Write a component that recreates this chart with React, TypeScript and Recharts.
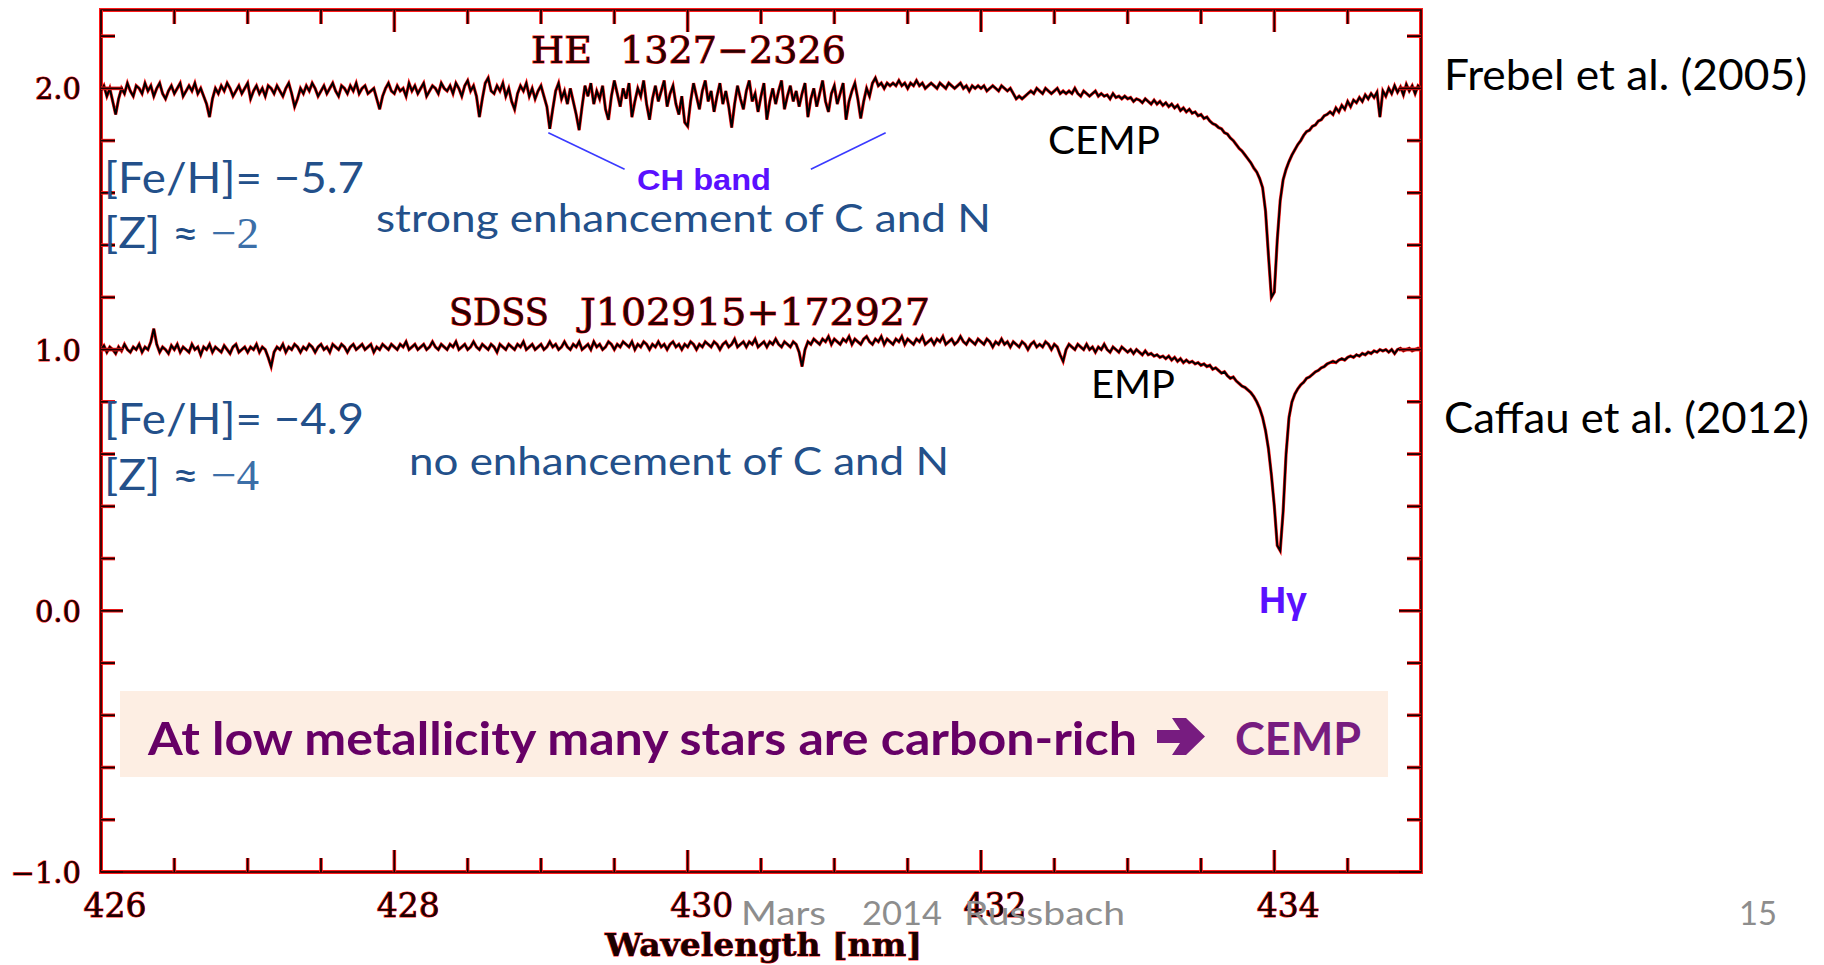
import React from 'react';
import { LineChart, Line, XAxis, YAxis, ReferenceArea, ReferenceLine } from 'recharts';

// wavelength grid of both spectra (nm)
const WL_START = 426;
const WL_STEP = 0.02;

// HE 1327-2326, normalised flux shifted up by 1
const HE1327_FLUX = [
  1.99, 2.01, 1.97, 2.00, 1.95, 1.90, 1.96, 2.00, 1.98, 2.02,
  1.99, 1.97, 2.01, 2.00, 1.98, 2.02, 1.99, 2.01, 1.97, 2.00,
  2.02, 1.98, 1.96, 1.99, 2.01, 1.98, 2.00, 2.02, 1.97, 1.99,
  2.01, 1.99, 2.02, 1.98, 2.00, 1.97, 1.94, 1.89, 1.96, 2.00,
  1.98, 2.01, 1.99, 2.02, 2.00, 1.97, 1.99, 2.01, 1.98, 2.00,
  2.02, 1.96, 1.99, 2.01, 1.98, 2.00, 1.97, 2.01, 2.00, 1.98,
  2.01, 1.99, 1.97, 2.00, 2.02, 1.98, 1.93, 1.96, 2.00, 1.98,
  2.01, 1.99, 2.02, 2.00, 1.97, 1.99, 2.01, 1.98, 2.00, 2.02,
  1.99, 1.97, 2.01, 2.00, 1.98, 2.01, 1.99, 2.02, 1.98, 2.00,
  2.01, 1.98, 1.99, 2.00, 1.96, 1.92, 1.97, 2.00, 2.02, 1.99,
  1.98, 2.01, 1.99, 2.00, 1.97, 2.02, 1.99, 2.01, 1.98, 2.00,
  2.02, 1.97, 1.99, 2.01, 2.00, 1.98, 2.02, 2.00, 1.99, 2.01,
  1.98, 2.02, 2.00, 1.97, 2.01, 2.03, 1.99, 2.01, 1.97, 1.89,
  1.96, 2.02, 2.04, 1.99, 1.98, 2.01, 1.99, 2.02, 1.97, 2.00,
  1.95, 1.92, 1.98, 2.01, 1.99, 2.02, 1.97, 2.00, 1.96, 1.99,
  2.01, 1.97, 1.93, 1.845, 1.92, 1.99, 2.02, 1.96, 1.99, 1.94,
  2.00, 1.95, 1.90, 1.84, 1.93, 2.01, 1.97, 2.02, 1.94, 1.99,
  1.96, 2.01, 1.92, 1.88, 1.97, 2.03, 1.98, 1.93, 2.00, 1.96,
  2.02, 1.89, 1.95, 2.00, 1.97, 2.03, 1.94, 1.88, 1.96, 2.01,
  1.95, 1.99, 2.03, 1.93, 1.98, 2.01, 1.94, 1.90, 1.97, 1.87,
  1.855, 1.95, 2.02, 1.97, 1.92, 1.99, 2.03, 1.95, 1.99, 1.91,
  1.97, 2.02, 1.94, 1.99, 1.93, 1.85, 1.94, 2.01, 1.96, 1.92,
  1.99, 2.03, 1.95, 1.98, 1.91, 1.97, 2.02, 1.88, 1.95, 2.00,
  1.94, 1.99, 2.03, 1.92, 1.97, 2.01, 1.95, 1.99, 1.93, 1.98,
  2.02, 1.89, 1.96, 2.00, 1.93, 1.98, 2.03, 1.95, 1.91, 1.98,
  2.01, 1.94, 1.98, 2.02, 1.88, 1.95, 1.99, 2.02, 1.96, 1.885,
  1.95, 2.00, 1.97, 2.02, 2.04, 2.01, 2.02, 2.00, 2.02, 2.01,
  2.02, 2.01, 2.03, 2.01, 2.02, 2.00, 2.02, 2.01, 2.03, 2.01,
  2.02, 2.00, 2.01, 2.02, 2.01, 2.00, 2.02, 2.01, 2.00, 2.02,
  2.01, 2.00, 2.01, 2.02, 2.00, 2.01, 1.99, 2.01, 2.00, 2.01,
  2.00, 2.01, 1.99, 2.00, 2.01, 2.00, 1.99, 2.01, 2.00, 1.99,
  2.00, 1.98, 1.96, 1.97, 1.96, 1.97, 1.98, 1.99, 1.98, 2.00,
  1.99, 1.98, 2.00, 1.99, 1.98, 1.99, 2.00, 1.98, 1.99, 1.98,
  1.99, 1.98, 2.00, 1.98, 1.97, 1.99, 1.98, 1.97, 1.98, 1.99,
  1.97, 1.98, 1.97, 1.975, 1.96, 1.98, 1.965, 1.97, 1.96, 1.97,
  1.96, 1.965, 1.95, 1.96, 1.955, 1.945, 1.96, 1.95, 1.94, 1.955,
  1.94, 1.95, 1.935, 1.945, 1.93, 1.94, 1.925, 1.935, 1.915, 1.925,
  1.91, 1.92, 1.905, 1.91, 1.895, 1.90, 1.885, 1.89, 1.875, 1.865,
  1.86, 1.85, 1.845, 1.83, 1.825, 1.81, 1.80, 1.785, 1.77, 1.76,
  1.745, 1.73, 1.715, 1.695, 1.68, 1.655, 1.62, 1.53, 1.36, 1.20,
  1.22, 1.42, 1.57, 1.65, 1.69, 1.72, 1.745, 1.765, 1.785, 1.80,
  1.82, 1.835, 1.84, 1.855, 1.86, 1.875, 1.88, 1.895, 1.90, 1.91,
  1.90, 1.925, 1.91, 1.935, 1.92, 1.95, 1.93, 1.955, 1.945, 1.965,
  1.95, 1.975, 1.96, 1.98, 1.965, 1.985, 1.89, 1.99, 1.97, 2.00,
  1.98, 2.01, 1.985, 2.005, 1.975, 2.015, 1.99, 2.01, 1.98, 2.01,
  2.00,
];

// SDSS J102915+172927, normalised flux
const SDSS_FLUX = [
  1.00, 1.015, 0.99, 1.01, 1.00, 0.985, 1.01, 0.995, 1.02, 1.00,
  0.99, 1.01, 1.00, 1.02, 0.99, 1.01, 1.00, 1.03, 1.08, 1.02,
  0.99, 1.01, 1.00, 0.985, 1.015, 1.00, 1.02, 0.99, 1.01, 1.00,
  0.99, 1.02, 1.00, 1.01, 0.98, 1.01, 1.00, 1.02, 0.99, 1.01,
  1.00, 0.99, 1.015, 1.00, 0.985, 1.01, 1.02, 0.99, 1.00, 1.01,
  0.99, 1.01, 1.00, 1.02, 0.99, 1.01, 1.00, 0.97, 0.935, 0.99,
  1.01, 1.00, 1.02, 0.99, 1.01, 1.00, 1.02, 1.01, 0.99, 1.01,
  1.00, 1.02, 1.01, 0.99, 1.01, 1.02, 1.00, 1.01, 0.99, 1.02,
  1.01, 1.00, 1.02, 1.01, 0.99, 1.01, 1.02, 1.00, 1.01, 1.02,
  1.00, 1.01, 1.02, 0.99, 1.01, 1.00, 1.02, 1.01, 1.00, 1.02,
  1.01, 1.00, 1.02, 1.01, 1.03, 1.00, 1.01, 1.02, 1.00, 1.01,
  1.02, 1.00, 1.01, 1.03, 1.01, 1.00, 1.02, 1.01, 1.00, 1.02,
  1.01, 1.03, 1.00, 1.01, 1.02, 1.00, 1.01, 1.03, 1.01, 1.00,
  1.02, 1.01, 1.00, 1.02, 1.01, 0.99, 1.02, 1.01, 1.00, 1.02,
  1.01, 1.00, 1.02, 1.01, 1.03, 1.00, 1.01, 1.02, 1.00, 1.01,
  1.02, 1.00, 1.01, 1.03, 1.01, 1.02, 1.00, 1.01, 1.03, 1.01,
  1.00, 1.02, 1.01, 1.03, 1.00, 1.01, 1.02, 1.00, 1.03, 1.01,
  1.02, 1.00, 1.01, 1.03, 1.02, 1.00, 1.02, 1.01, 1.03, 1.02,
  1.01, 1.03, 1.00, 1.02, 1.01, 1.03, 1.02, 1.00, 1.02, 1.01,
  1.03, 1.01, 1.02, 1.00, 1.02, 1.03, 1.01, 1.02, 1.00, 1.02,
  1.01, 1.03, 1.02, 1.00, 1.02, 1.01, 1.03, 1.02, 1.01, 1.03,
  1.02, 1.00, 1.02, 1.03, 1.01, 1.02, 1.04, 1.01, 1.02, 1.03,
  1.01, 1.03, 1.02, 1.04, 1.01, 1.02, 1.03, 1.01, 1.03, 1.02,
  1.04, 1.02, 1.01, 1.03, 1.02, 1.01, 1.03, 1.02, 0.99, 0.935,
  1.00, 1.03, 1.02, 1.04, 1.03, 1.02, 1.04, 1.03, 1.05, 1.02,
  1.04, 1.03, 1.02, 1.04, 1.03, 1.05, 1.02, 1.04, 1.03, 1.02,
  1.04, 1.05, 1.03, 1.02, 1.04, 1.03, 1.05, 1.02, 1.04, 1.03,
  1.02, 1.04, 1.03, 1.05, 1.02, 1.04, 1.03, 1.02, 1.04, 1.03,
  1.05, 1.02, 1.03, 1.04, 1.02, 1.04, 1.03, 1.05, 1.02, 1.03,
  1.04, 1.02, 1.03, 1.05, 1.03, 1.02, 1.04, 1.03, 1.02, 1.04,
  1.03, 1.02, 1.04, 1.03, 1.01, 1.03, 1.02, 1.04, 1.02, 1.03,
  1.01, 1.03, 1.02, 1.01, 1.03, 1.02, 1.00, 1.02, 1.03, 1.01,
  1.02, 1.01, 1.03, 1.02, 1.00, 1.02, 1.01, 0.98, 0.955, 1.00,
  1.02, 1.01, 1.00, 1.02, 1.01, 1.00, 1.02, 1.00, 1.01, 0.99,
  1.01, 1.00, 1.02, 1.00, 0.99, 1.01, 1.00, 0.99, 1.01, 1.00,
  0.99, 1.00, 0.985, 1.00, 0.99, 0.98, 0.995, 0.98, 0.985, 0.975,
  0.98, 0.97, 0.975, 0.965, 0.975, 0.96, 0.97, 0.955, 0.965, 0.95,
  0.96, 0.95, 0.955, 0.945, 0.95, 0.94, 0.945, 0.935, 0.94, 0.925,
  0.93, 0.92, 0.91, 0.915, 0.90, 0.89, 0.895, 0.88, 0.87, 0.86,
  0.855, 0.845, 0.835, 0.82, 0.80, 0.775, 0.74, 0.69, 0.62, 0.52,
  0.40, 0.25, 0.23, 0.38, 0.60, 0.74, 0.80, 0.83, 0.85, 0.865,
  0.875, 0.89, 0.895, 0.905, 0.915, 0.92, 0.93, 0.935, 0.945, 0.95,
  0.955, 0.95, 0.96, 0.965, 0.96, 0.97, 0.975, 0.97, 0.98, 0.975,
  0.985, 0.98, 0.99, 0.985, 0.995, 0.99, 1.00, 0.995, 1.00, 0.99,
  1.00, 0.985, 1.00, 1.005, 0.995, 1.00, 1.005, 0.995, 1.00, 1.005,
  1.00,
];

const X_TICKS = [426, 426.5, 427, 427.5, 428, 428.5, 429, 429.5, 430, 430.5, 431, 431.5, 432, 432.5, 433, 433.5, 434, 434.5];
const X_LABELED = [426, 428, 430, 432, 434];
const Y_TICKS = [-1, -0.8, -0.6, -0.4, -0.2, 0, 0.2, 0.4, 0.6, 0.8, 1, 1.2, 1.4, 1.6, 1.8, 2, 2.2];
const Y_LABELED = [-1, 0, 1, 2];

const W = 1824;
const H = 965;
// every axis is 1px thick, so the plot box ends up at x 101..1421, y 10..872
const MARGIN = { top: 9, right: 402, bottom: 92, left: 100 };

const RED = '#ff1a1a';
const INK = '#1a0000';
const BLUE = '#23508a';

const chartData = HE1327_FLUX.map((he, i) => ({
  wl: Math.round((WL_START + i * WL_STEP) * 100) / 100,
  he,
  sdss: SDSS_FLUX[i],
}));

const fmtY = (v: number) => (v < 0 ? '\u2212' + Math.abs(v).toFixed(1) : v.toFixed(1));

// inward tick with the red fringe of the original plot, labels on bottom/left only
const FrameTick = ({ x, y, payload, side }: any) => {
  const v = payload.value;
  const horizontal = side === 'bottom' || side === 'top';
  const major = horizontal ? X_LABELED.includes(v) : Y_LABELED.includes(v);
  const len = major ? 22 : 14;
  let x2 = x;
  let y2 = y;
  if (side === 'bottom') y2 = y - len;
  if (side === 'top') y2 = y + len;
  if (side === 'left') x2 = x + len;
  if (side === 'right') x2 = x - len;

  let label = null;
  if (major && side === 'bottom') {
    label = (
      <text x={x + 14} y={y + 45} textAnchor="middle" fontFamily="DejaVu Serif" fontSize={33}
        fill={INK} stroke={RED} strokeWidth={1.1} paintOrder="stroke">
        {v}
      </text>
    );
  }
  if (major && side === 'left') {
    label = (
      <text x={x - 20} y={y + 11} textAnchor="end" fontFamily="DejaVu Serif" fontSize={29}
        fill={INK} stroke={RED} strokeWidth={1.1} paintOrder="stroke">
        {fmtY(v)}
      </text>
    );
  }
  return (
    <g>
      <line x1={x} y1={y} x2={x2} y2={y2} stroke={RED} strokeWidth={3.6} />
      <line x1={x} y1={y} x2={x2} y2={y2} stroke={INK} strokeWidth={1.8} />
      {label}
    </g>
  );
};

const axisCommon = {
  type: 'number' as const,
  allowDataOverflow: true,
  tickLine: false,
  axisLine: false,
  tickSize: 0,
  tickMargin: 0,
  interval: 0 as const,
};

const Sans = 'Lato, "Liberation Sans", sans-serif';

const App: React.FC = () => {
  return (
    <div style={{ position: 'absolute', left: 0, top: 0, width: W, height: H, background: '#fff' }}>
      <LineChart width={W} height={H} data={chartData} margin={MARGIN}>
        <XAxis {...axisCommon} dataKey="wl" domain={[426, 435]} ticks={X_TICKS} height={1}
          tick={(p: any) => <FrameTick {...p} side="bottom" />} />
        <XAxis {...axisCommon} xAxisId="top" dataKey="wl" orientation="top" domain={[426, 435]} ticks={X_TICKS} height={1}
          tick={(p: any) => <FrameTick {...p} side="top" />} />
        <YAxis {...axisCommon} domain={[-1, 2.3]} ticks={Y_TICKS} width={1}
          tick={(p: any) => <FrameTick {...p} side="left" />} />
        <YAxis {...axisCommon} yAxisId="right" orientation="right" domain={[-1, 2.3]} ticks={Y_TICKS} width={1}
          tick={(p: any) => <FrameTick {...p} side="right" />} />

        <ReferenceArea x1={426} x2={435} y1={-1} y2={2.3} fill="none" fillOpacity={0} stroke={RED} strokeWidth={4} />
        <ReferenceArea x1={426} x2={435} y1={-1} y2={2.3} fill="none" fillOpacity={0} stroke={INK} strokeWidth={1.6} />

        {/* CH band pointers */}
        <ReferenceLine segment={[{ x: 429.05, y: 1.83 }, { x: 429.57, y: 1.69 }]} stroke="#3a3aff" strokeWidth={1.6} />
        <ReferenceLine segment={[{ x: 431.35, y: 1.83 }, { x: 430.84, y: 1.69 }]} stroke="#3a3aff" strokeWidth={1.6} />

        <Line type="linear" dataKey="he" stroke={RED} strokeWidth={3.2} dot={false} activeDot={false} isAnimationActive={false} />
        <Line type="linear" dataKey="he" stroke="#000" strokeWidth={2} dot={false} activeDot={false} isAnimationActive={false} />
        <Line type="linear" dataKey="sdss" stroke={RED} strokeWidth={3.2} dot={false} activeDot={false} isAnimationActive={false} />
        <Line type="linear" dataKey="sdss" stroke="#000" strokeWidth={2} dot={false} activeDot={false} isAnimationActive={false} />
      </LineChart>

      <svg width={W} height={H} style={{ position: 'absolute', left: 0, top: 0, pointerEvents: 'none' }}>
        {/* plot titles */}
        <g fontFamily="DejaVu Serif" fontSize={38} fill="#2a0000" stroke={RED} strokeWidth={1.1} paintOrder="stroke">
          <text x={531} y={63}>HE</text>
          <text x={620} y={63} textLength={226} lengthAdjust="spacingAndGlyphs">1327{'\u2212'}2326</text>
          <text x={449} y={325} textLength={100} lengthAdjust="spacingAndGlyphs">SDSS</text>
          <text x={580} y={325} textLength={350} lengthAdjust="spacingAndGlyphs">J102915+172927</text>
        </g>
        <text x={605} y={956} fontFamily="DejaVu Serif" fontWeight="bold" fontSize={32} fill={INK}
          stroke={RED} strokeWidth={0.9} paintOrder="stroke" textLength={317} lengthAdjust="spacingAndGlyphs">
          Wavelength [nm]
        </text>

        <g fontFamily="Liberation Sans" fontWeight="bold" fill="#5a10ff">
          <text x={637} y={190} fontSize={30} textLength={134} lengthAdjust="spacingAndGlyphs">CH band</text>
          <text x={1259} y={613} fontSize={36} textLength={48} lengthAdjust="spacingAndGlyphs">H{'\u03b3'}</text>
        </g>

        {/* metallicity notes */}
        <g fontFamily={Sans} fill={BLUE}>
          <text x={104} y={193} fontSize={43} textLength={260} lengthAdjust="spacingAndGlyphs">[Fe/H]= {'\u2212'}5.7</text>
          <text x={104} y={248} fontSize={43} textLength={95} lengthAdjust="spacingAndGlyphs">[Z] {'\u2248'}</text>
          <text x={376} y={232} fontSize={38} textLength={615} lengthAdjust="spacingAndGlyphs">strong enhancement of C and N</text>
          <text x={104} y={434} fontSize={43} textLength={260} lengthAdjust="spacingAndGlyphs">[Fe/H]= {'\u2212'}4.9</text>
          <text x={104} y={490} fontSize={43} textLength={95} lengthAdjust="spacingAndGlyphs">[Z] {'\u2248'}</text>
          <text x={409} y={475} fontSize={38} textLength={540} lengthAdjust="spacingAndGlyphs">no enhancement of C and N</text>
        </g>
        <g fontFamily="Liberation Serif" fill="#3c6fa8" fontSize={44}>
          <text x={211} y={248} textLength={48} lengthAdjust="spacingAndGlyphs">{'\u2212'}2</text>
          <text x={211} y={490} textLength={48} lengthAdjust="spacingAndGlyphs">{'\u2212'}4</text>
        </g>

        <g fontFamily={Sans} fill="#000">
          <text x={1048} y={154} fontSize={38} textLength={112} lengthAdjust="spacingAndGlyphs">CEMP</text>
          <text x={1091} y={398} fontSize={38} textLength={84} lengthAdjust="spacingAndGlyphs">EMP</text>
          <text x={1444} y={90} fontSize={42} textLength={363} lengthAdjust="spacingAndGlyphs">Frebel et al. (2005)</text>
          <text x={1444} y={433} fontSize={42} textLength={365} lengthAdjust="spacingAndGlyphs">Caffau et al. (2012)</text>
        </g>

        {/* summary banner */}
        <rect x={120} y={691} width={1268} height={86} fill="#fdeee3" />
        <text x={148} y={755} fontFamily={Sans} fontWeight="bold" fontSize={46} fill="#660066"
          textLength={989} lengthAdjust="spacingAndGlyphs">
          At low metallicity many stars are carbon-rich
        </text>
        <polygon points="1157,730 1180,730 1172,718 1186,718 1205,736.5 1186,755 1172,755 1180,743 1157,743" fill="#771c80" />
        <text x={1235} y={755} fontFamily={Sans} fontWeight="bold" fontSize={46} fill="#771c80"
          textLength={126} lengthAdjust="spacingAndGlyphs">CEMP</text>

        {/* footer */}
        <g fontFamily={Sans} fill="#8d8d8d" fontSize={33}>
          <text x={741} y={925} textLength={85} lengthAdjust="spacingAndGlyphs">Mars</text>
          <text x={862} y={925} textLength={80} lengthAdjust="spacingAndGlyphs">2014</text>
          <text x={964} y={925} textLength={161} lengthAdjust="spacingAndGlyphs">Russbach</text>
          <text x={1739} y={925} textLength={38} lengthAdjust="spacingAndGlyphs">15</text>
        </g>
      </svg>
    </div>
  );
};

export default App;
